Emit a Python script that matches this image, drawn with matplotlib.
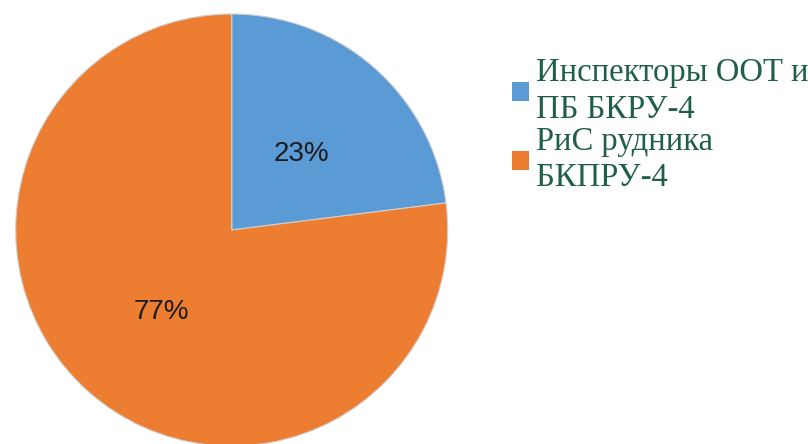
import matplotlib
matplotlib.use("Agg")
import matplotlib.pyplot as plt
from matplotlib.font_manager import FontProperties

labels = ["Инспекторы ООТ и\nПБ БКРУ-4", "РиС рудника\nБКПРУ-4"]
values = [23, 77]
colors = ["#5B9BD5", "#ED7D31"]

W, H = 808, 444
fig = plt.figure(figsize=(W / 100, H / 100), dpi=100)
fig.patch.set_facecolor("white")

# pie axes: center (231.7, 214) px from bottom-left, radius 216 px
R = 216
cx, cy = 231.7, 214
ax = fig.add_axes([(cx - R) / W, (cy - R) / H, 2 * R / W, 2 * R / H])
wedges, texts, autotexts = ax.pie(
    values, colors=colors, startangle=90, counterclock=False,
    autopct="%1.0f%%", pctdistance=0.49,
    wedgeprops=dict(edgecolor="#d0d0d0", linewidth=0.8),
    textprops=dict(fontsize=20, family="Liberation Sans", color="#1c1c1c"),
)
for t in autotexts:
    t.set_va("center_baseline")
ax.set_xlim(-1, 1)
ax.set_ylim(-1, 1)

serif = FontProperties(family="Liberation Serif", size=23.5)
leg = fig.legend(
    wedges, labels, loc="upper left",
    bbox_to_anchor=(512 / W, 1 - 58 / H),
    frameon=False, borderpad=0, borderaxespad=0,
    handlelength=0.52, handleheight=0.52, handletextpad=0.22,
    labelspacing=0.06,
    prop=serif,
    labelcolor="#1F5E4A",
)
for t in leg.get_texts():
    t.set_linespacing(1.24)
for p in leg.get_patches():
    p.set_edgecolor("none")

fig.savefig("out.png", dpi=100)
